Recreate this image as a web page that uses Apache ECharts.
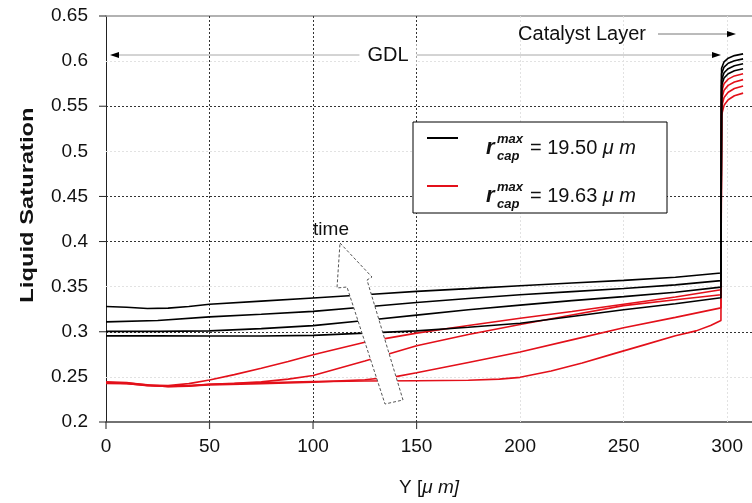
<!DOCTYPE html>
<html>
<head>
<meta charset="utf-8">
<script src="https://cdn.jsdelivr.net/npm/echarts@6/dist/echarts.min.js"></script>
<style>
  html, body { margin: 0; padding: 0; background: #fff; }
  #chart { width: 752px; height: 503px; }
</style>
</head>
<body>
<div id="chart"></div>
<script>
// Liquid saturation profiles through the GDL and into the catalyst layer,
// four time snapshots for each maximum capillary radius.

// Axis ticks (µm and saturation)
const xTickValues = [0, 50, 100, 150, 200, 250, 300];
const yTickValues = [0.2, 0.25, 0.3, 0.35, 0.4, 0.45, 0.5, 0.55, 0.6, 0.65];
const xStrongLines = [50, 100, 150];
const xFaintLines = [200, 250, 300];
const yStrongLines = [0.3, 0.4, 0.45, 0.55];
const yFaintLines = [0.25, 0.35, 0.5, 0.6];
const xTickMarks = [0, 50, 100, 150];
const yTickMarks = [0.2, 0.3, 0.4, 0.45, 0.55, 0.65];

// r_cap^max = 19.50 µm (latest -> earliest)
const black1 = [[0,0.328],[10,0.3272],[20,0.3258],[30,0.3262],[40,0.328],[50,0.3305],[75,0.334],[100,0.3375],[125,0.341],[150,0.3448],[175,0.3478],[200,0.351],[225,0.354],[250,0.357],[275,0.3605],[297,0.3652],[297.3,0.592],[298.5,0.5992],[300.5,0.6032],[303.5,0.6061],[307.7,0.608]];
const black2 = [[0,0.311],[25,0.3125],[50,0.3165],[75,0.3195],[100,0.3226],[125,0.3275],[150,0.3325],[175,0.3368],[200,0.341],[225,0.3445],[250,0.348],[275,0.352],[297,0.3567],[297.3,0.586],[298.5,0.5934],[300.5,0.5976],[303.5,0.6005],[307.7,0.6025]];
const black3 = [[0,0.3005],[25,0.3005],[50,0.301],[75,0.3035],[100,0.3068],[125,0.3125],[150,0.3185],[175,0.3245],[200,0.3295],[225,0.3345],[250,0.339],[275,0.3438],[297,0.3495],[297.3,0.579],[298.5,0.5871],[300.5,0.5916],[303.5,0.5948],[307.7,0.597]];
const black4 = [[0,0.2955],[25,0.2955],[50,0.2953],[75,0.2953],[100,0.296],[125,0.2985],[150,0.301],[175,0.305],[200,0.3095],[225,0.317],[250,0.3245],[275,0.331],[297,0.3378],[297.3,0.573],[298.5,0.5813],[300.5,0.586],[303.5,0.5893],[307.7,0.5915]];

// r_cap^max = 19.63 µm (latest -> earliest)
const red1 = [[0,0.2445],[10,0.2438],[20,0.241],[30,0.2405],[40,0.2425],[50,0.2465],[62,0.2525],[75,0.2595],[88,0.267],[100,0.2745],[125,0.2885],[150,0.2985],[175,0.307],[200,0.315],[225,0.3225],[250,0.3305],[275,0.3385],[297,0.3465],[297.3,0.566],[298.5,0.575],[300.5,0.58],[303.5,0.5836],[307.7,0.586]];
const red2 = [[0,0.2435],[10,0.2428],[20,0.2402],[30,0.2398],[40,0.2405],[50,0.2418],[62,0.2428],[75,0.2445],[88,0.2475],[100,0.2515],[125,0.2675],[150,0.2845],[175,0.297],[200,0.308],[225,0.3185],[250,0.329],[275,0.3355],[297,0.341],[297.3,0.558],[298.5,0.5677],[300.5,0.5731],[303.5,0.5769],[307.7,0.5795]];
const red3 = [[0,0.2428],[10,0.2425],[20,0.2405],[30,0.2395],[40,0.24],[50,0.241],[75,0.2425],[100,0.2442],[125,0.2468],[140,0.2503],[150,0.2545],[175,0.266],[200,0.2776],[225,0.291],[250,0.3045],[275,0.316],[297,0.3265],[297.3,0.549],[298.5,0.5596],[300.5,0.5655],[303.5,0.5697],[307.7,0.5725]];
const red4 = [[0,0.2438],[10,0.2432],[20,0.2412],[30,0.2392],[40,0.2398],[50,0.2418],[75,0.2435],[100,0.2448],[125,0.2455],[150,0.2458],[175,0.2462],[190,0.2475],[200,0.2495],[215,0.2565],[230,0.2655],[245,0.2755],[260,0.2855],[275,0.2955],[285,0.301],[292,0.307],[297,0.3126],[297.3,0.54],[298.5,0.551],[300.5,0.5572],[303.5,0.5616],[307.7,0.5645]];

const legendLabels = ['= 19.50 ', '= 19.63 '];

const FONT = '"Liberation Sans", Arial, sans-serif';
const BLACK = '#000000';
const RED = '#e3101a';
const STRONG_GRID = '#333333';
const FAINT_GRID = '#e2e2e2';

const chart = echarts.init(document.getElementById('chart'), null, { renderer: 'canvas' });

function gridLines() {
  const lines = [];
  xFaintLines.forEach(v => lines.push({ xAxis: v, lineStyle: { color: FAINT_GRID } }));
  yFaintLines.forEach(v => lines.push({ yAxis: v, lineStyle: { color: FAINT_GRID } }));
  xStrongLines.forEach(v => lines.push({ xAxis: v, lineStyle: { color: STRONG_GRID } }));
  yStrongLines.forEach(v => lines.push({ yAxis: v, lineStyle: { color: STRONG_GRID } }));
  return lines;
}

function curve(name, data, color, withGrid) {
  const s = {
    name, type: 'line', data,
    showSymbol: false, symbol: 'none',
    lineStyle: { color, width: 1.6 },
    itemStyle: { color },
    z: color === BLACK ? 4 : 3,
    animation: false, silent: true
  };
  if (withGrid) {
    s.markLine = {
      silent: true, symbol: 'none', z: 1, animation: false,
      label: { show: false },
      lineStyle: { type: [2, 2], width: 1 },
      data: gridLines()
    };
  }
  return s;
}

const option = {
  animation: false,
  backgroundColor: '#ffffff',
  textStyle: { fontFamily: FONT },
  grid: { left: 106, right: 0, top: 16, bottom: 81, containLabel: false },
  xAxis: [{
    type: 'value', min: 0, max: 312, interval: 50,
    axisLine: { show: true, lineStyle: { color: '#444', width: 1.5 } },
    axisTick: { show: false },
    splitLine: { show: false },
    axisLabel: {
      show: true, margin: 15, fontSize: 19, color: '#111', fontFamily: FONT,
      showMaxLabel: false,
      formatter: v => (v % 50 === 0 ? String(v) : '')
    }
  }, {
    type: 'value', min: 0, max: 312, position: 'top',
    axisLine: { show: true, lineStyle: { color: '#999', width: 1.5 } },
    axisTick: { show: false }, axisLabel: { show: false }, splitLine: { show: false }
  }],
  yAxis: {
    type: 'value', min: 0.2, max: 0.65, interval: 0.05,
    axisLine: { show: true, lineStyle: { color: '#222', width: 1 } },
    axisTick: { show: false },
    splitLine: { show: false },
    axisLabel: {
      margin: 18, fontSize: 19, color: '#111', fontFamily: FONT,
      formatter: v => String(Math.round(v * 100) / 100)
    }
  },
  series: [
    curve('red4', red4, RED, true),
    curve('red3', red3, RED, false),
    curve('red2', red2, RED, false),
    curve('red1', red1, RED, false),
    curve('black4', black4, BLACK, false),
    curve('black3', black3, BLACK, false),
    curve('black2', black2, BLACK, false),
    curve('black1', black1, BLACK, false)
  ]
};

chart.setOption(option);

// Annotation layer: tick marks, titles, arrows and the legend box
const toPx = (x, y) => chart.convertToPixel({ gridIndex: 0 }, [x, y]);
const origin = toPx(0, 0.2);
const graphics = [];

xTickMarks.forEach(v => {
  const p = toPx(v, 0.2);
  graphics.push({ type: 'line', z: 10, shape: { x1: p[0], y1: origin[1], x2: p[0], y2: origin[1] + 7 },
    style: { stroke: '#444', lineWidth: 1.2 } });
});
yTickMarks.forEach(v => {
  const p = toPx(0, v);
  graphics.push({ type: 'line', z: 10, shape: { x1: origin[0] - 7, y1: p[1], x2: origin[0], y2: p[1] },
    style: { stroke: '#222', lineWidth: 1 } });
});

// axis titles
graphics.push({
  type: 'text', z: 10, x: 28, y: 205, rotation: Math.PI / 2, scaleX: 1.25,
  style: { text: 'Liquid Saturation', font: 'bold 19px ' + FONT, fill: '#111', align: 'center', verticalAlign: 'middle' }
});
graphics.push({
  type: 'text', z: 10, x: 429, y: 488,
  style: {
    text: 'Y [{i|\u03bc m]}', font: '19px ' + FONT, fill: '#111', align: 'center', verticalAlign: 'middle',
    rich: { i: { fontStyle: 'italic', fontSize: 19, fontFamily: FONT } }
  }
});

// GDL span arrow
const gdlY = 55;
graphics.push({ type: 'line', z: 10, shape: { x1: 112, y1: gdlY, x2: 718, y2: gdlY }, style: { stroke: '#a8a8a8', lineWidth: 1 } });
graphics.push({ type: 'polygon', z: 11, shape: { points: [[110, gdlY], [119, gdlY - 3], [119, gdlY + 3]] }, style: { fill: '#000' } });
graphics.push({ type: 'polygon', z: 11, shape: { points: [[721, gdlY], [712, gdlY - 3], [712, gdlY + 3]] }, style: { fill: '#000' } });
graphics.push({
  type: 'text', z: 12, x: 388, y: gdlY,
  style: { text: 'GDL', font: '20px ' + FONT, fill: '#111', align: 'center', verticalAlign: 'middle',
    backgroundColor: '#fff', padding: [2, 8] }
});

// Catalyst layer arrow
const clY = 34;
graphics.push({
  type: 'text', z: 12, x: 582, y: clY,
  style: { text: 'Catalyst Layer', font: '20px ' + FONT, fill: '#111', align: 'center', verticalAlign: 'middle' }
});
graphics.push({ type: 'line', z: 10, shape: { x1: 658, y1: clY, x2: 730, y2: clY }, style: { stroke: '#777', lineWidth: 1 } });
graphics.push({ type: 'polygon', z: 11, shape: { points: [[736, clY], [727, clY - 3], [727, clY + 3]] }, style: { fill: '#000' } });

// hollow "time" arrow
graphics.push({
  type: 'polygon', z: 20,
  shape: { points: [[340, 243], [372, 277], [367, 280], [403, 400], [385, 404], [347, 287], [337, 288]] },
  style: { fill: '#ffffff', stroke: '#555', lineWidth: 1, lineDash: [3, 2] }
});
graphics.push({
  type: 'text', z: 21, x: 331, y: 230,
  style: { text: 'time', font: '19px ' + FONT, fill: '#111', align: 'center', verticalAlign: 'middle' }
});

// legend box
const lg = { x: 413, y: 122, w: 254, h: 91 };
graphics.push({ type: 'rect', z: 30, shape: { x: lg.x, y: lg.y, width: lg.w, height: lg.h },
  style: { fill: '#fff', stroke: '#000', lineWidth: 1 } });
const rows = [
  { line: 138, text: 148, color: BLACK, label: legendLabels[0] },
  { line: 186, text: 196, color: RED, label: legendLabels[1] }
];
rows.forEach(r => {
  graphics.push({ type: 'line', z: 31, shape: { x1: 427, y1: r.line, x2: 458, y2: r.line },
    style: { stroke: r.color, lineWidth: 2 } });
  graphics.push({ type: 'text', z: 31, x: 486, y: r.text,
    style: { text: 'r', font: 'italic bold 22px ' + FONT, fill: '#111', align: 'left', verticalAlign: 'middle' } });
  graphics.push({ type: 'text', z: 31, x: 497, y: r.text - 9,
    style: { text: 'max', font: 'italic bold 13px ' + FONT, fill: '#111', align: 'left', verticalAlign: 'middle' } });
  graphics.push({ type: 'text', z: 31, x: 497, y: r.text + 8,
    style: { text: 'cap', font: 'italic bold 13px ' + FONT, fill: '#111', align: 'left', verticalAlign: 'middle' } });
  graphics.push({ type: 'text', z: 31, x: 530, y: r.text,
    style: { text: r.label + '{i|\u03bc m}', font: '20px ' + FONT, fill: '#111', align: 'left', verticalAlign: 'middle',
      rich: { i: { fontStyle: 'italic', fontSize: 20, fontFamily: FONT } } } });
});

chart.setOption({ graphic: { elements: graphics } });
</script>
</body>
</html>
